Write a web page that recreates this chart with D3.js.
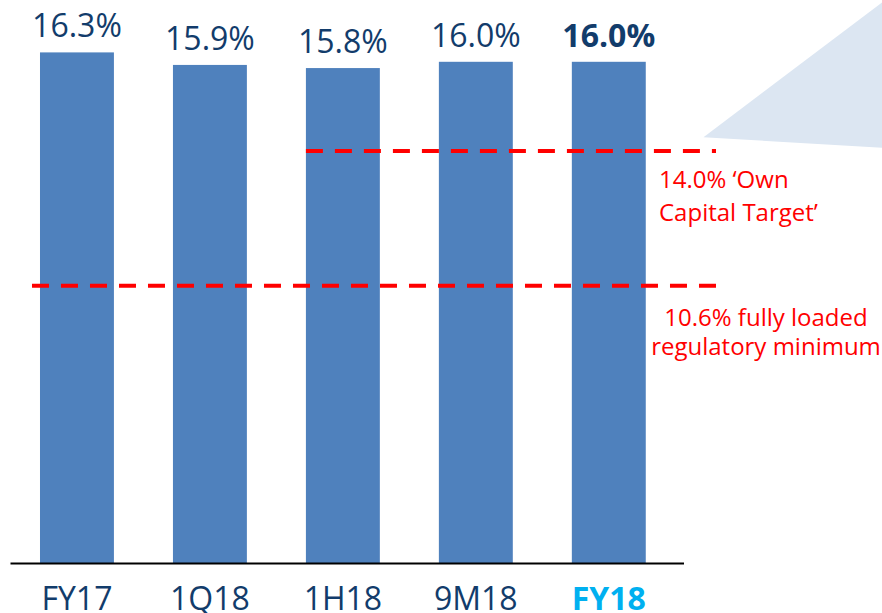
<!DOCTYPE html>
<html>
<head>
<meta charset="utf-8">
<script src="https://cdn.jsdelivr.net/npm/d3@7"></script>
<style>
   html, body { margin: 0; padding: 0; background: #fff; }
   svg { display: block; font-family: 'Open Sans', 'Noto Sans', sans-serif; }
</style>
</head>
<body>
<svg id="chart" width="882" height="613"></svg>
<script>
// periods and CET1 ratio (%)
const periods = [ 'FY17', '1Q18', '1H18', '9M18', 'FY18' ];
const ratios = [ 16.3, 15.9, 15.8, 16.0, 16.0 ];

// reference thresholds; the slide draws the dashed lines off scale,
// so `levels` are the heights
const thresholdLabels = [
   [ '14.0% \u2018Own', 'Capital Target\u2019' ],
   [ '10.6% fully loaded', 'regulatory minimum' ]
];
const thresholdLevels = [ 13.15, 8.85 ];
const thresholdStart = [ '1H18', 'FY17' ];

const svg = d3.select( '#chart' );
const W = 882, H = 613;

const x = d3.scaleBand()
   .domain( periods )
   .range( [ 6.75, 679 ] )
   .paddingInner( 0.444 )
   .paddingOuter( 0.25 );

const y = d3.scaleLinear()
   .domain( [ 0, 16.3 ] )
   .range( [ 563, 52.4 ] );

const last = periods[ periods.length - 1 ];
const navy = '#123C6B';

// light blue callout wedge in the corner
svg.append( 'path' )
   .attr( 'd', 'M703.5,137.3 L882,2.5 L882,147.8 Z' )
   .attr( 'fill', '#DCE6F2' );

// bars
svg.selectAll( 'rect.bar' )
   .data( periods )
   .join( 'rect' )
   .attr( 'class', 'bar' )
   .attr( 'x', d => x( d ) )
   .attr( 'width', x.bandwidth() )
   .attr( 'y', ( d, i ) => y( ratios[ i ] ) )
   .attr( 'height', ( d, i ) => y( 0 ) - y( ratios[ i ] ) )
   .attr( 'fill', '#4F81BD' );

// value labels
svg.selectAll( 'text.value' )
   .data( periods )
   .join( 'text' )
   .attr( 'class', 'value' )
   .attr( 'x', d => x( d ) + x.bandwidth() / 2 )
   .attr( 'y', ( d, i ) => y( ratios[ i ] ) - 15 )
   .attr( 'text-anchor', 'middle' )
   .attr( 'font-size', 32 )
   .attr( 'font-weight', d => d === last ? 700 : 400 )
   .attr( 'fill', navy )
   .text( ( d, i ) => ratios[ i ].toFixed( 1 ) + '%' );

// baseline
svg.append( 'line' )
   .attr( 'x1', 10.5 ).attr( 'x2', 684 )
   .attr( 'y1', y( 0 ) + 0.5 ).attr( 'y2', y( 0 ) + 0.5 )
   .attr( 'stroke', '#000' )
   .attr( 'stroke-width', 2 );

// category labels
svg.selectAll( 'text.cat' )
   .data( periods )
   .join( 'text' )
   .attr( 'class', 'cat' )
   .attr( 'x', d => x( d ) + x.bandwidth() / 2 )
   .attr( 'y', 610 )
   .attr( 'text-anchor', 'middle' )
   .attr( 'font-size', 32 )
   .attr( 'font-weight', d => d === last ? 700 : 400 )
   .attr( 'fill', d => d === last ? '#00B0F0' : navy )
   .text( d => d );

// dashed threshold lines
const lineEnd = 716;
svg.selectAll( 'line.threshold' )
   .data( thresholdLevels )
   .join( 'line' )
   .attr( 'class', 'threshold' )
   .attr( 'x1', ( d, i ) => i === 0 ? x( thresholdStart[ i ] ) : x( thresholdStart[ i ] ) - 8 )
   .attr( 'x2', lineEnd )
   .attr( 'y1', d => y( d ) )
   .attr( 'y2', d => y( d ) )
   .attr( 'stroke', '#FF0000' )
   .attr( 'stroke-width', 4 )
   .attr( 'stroke-dasharray', '17 12' );

// threshold captions
const captions = [
   { anchor: 'start', x: 659, y: [ 188, 221 ] },
   { anchor: 'middle', x: 766, y: [ 326, 355 ] }
];
thresholdLabels.forEach( ( lines, i ) => {
   const c = captions[ i ];
   lines.forEach( ( t, j ) => {
      svg.append( 'text' )
         .attr( 'x', c.x )
         .attr( 'y', c.y[ j ] )
         .attr( 'text-anchor', c.anchor )
         .attr( 'font-size', 24 )
         .attr( 'fill', '#FF0000' )
         .text( t );
   } );
} );
</script>
</body>
</html>
